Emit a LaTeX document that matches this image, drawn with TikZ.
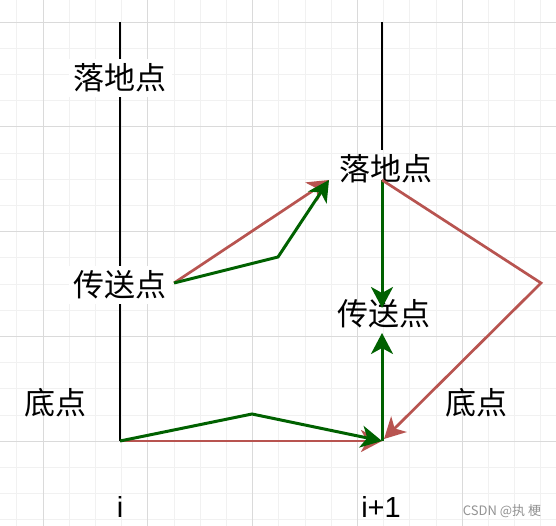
\documentclass[tikz,border=0pt]{standalone}
\usepackage{fontspec}
\setmainfont{Liberation Sans}
\newfontfamily\cjk{Noto Sans CJK SC}
\usepackage{tikz}
\usetikzlibrary{arrows.meta}
\definecolor{gridmin}{HTML}{F1F1F1}
\definecolor{gridmaj}{HTML}{DADADA}
\definecolor{jumpgreen}{HTML}{006100}
\definecolor{jumpred}{HTML}{B85450}
\newcommand{\Hop}[3]{\draw [#1] (#2) -- (#3);}

\begin{document}
\begin{tikzpicture}
[x=1pt,y=-1pt,
 pole/.style={line width=2.6pt,black},
 lbl/.style={fill=white,inner sep=5pt,font=\cjk\fontsize{31}{31}\selectfont},
 idx/.style={inner sep=0pt,font=\fontsize{29}{29}\selectfont},
 garc/.style={line width=3pt,jumpgreen,-{Stealth[length=21pt,width=22pt,inset=6pt]}},
 rarc/.style={line width=2.7pt,jumpred,-{Stealth[length=21pt,width=22pt,inset=6pt]}},]

\useasboundingbox (0,0) rectangle (556,526);
\fill[white] (0,0) rectangle (556,526);

% grid
\foreach \k in {0,...,21}
  \draw[gridmin,line width=0.8pt] (16.8+26.2*\k,0) -- (16.8+26.2*\k,526);
\foreach \k in {0,...,20}
  \draw[gridmin,line width=0.8pt] (0,-4.2+26.2*\k) -- (556,-4.2+26.2*\k);
\foreach \k in {0,...,4}
  \draw[gridmaj,line width=0.9pt] (43+104.8*\k,0) -- (43+104.8*\k,526);
\foreach \k in {0,...,4}
  \draw[gridmaj,line width=0.9pt] (0,22+104.8*\k) -- (556,22+104.8*\k);

\coordinate (topL) at (120,22);
\coordinate (botL) at (120,441);
\coordinate (topR) at (382,22);
\coordinate (midR) at (382,150);
\coordinate (botR) at (382,441);

% poles
\draw[pole] (topL) -- (botL);
\draw[pole] (topR) -- (midR);

\node [lbl] at (120,78) (landL) {落地点};
\node [lbl] at (120,285) (teleL) {传送点};
\node [lbl,fill=none] at (386,169) (landR) {落地点};
\node [lbl,fill=none] at (384,314) (teleR) {传送点};
\node [lbl,fill=none] at (55,403) (baseL) {底点};
\node [lbl,fill=none] at (476,403) (baseR) {底点};
\node [idx] at (120,507) (posI) {i};
\node [idx] at (381,507) (posJ) {i+1};
\node [inner sep=0pt,text=gray!85,font=\cjk\fontsize{13}{13}\selectfont] at (502,511) (mark) {CSDN @执 梗};

\coordinate (landRs) at (382,180);
\coordinate (landRt) at (329,180);
\coordinate (teleLs) at (174,283);
\coordinate (teleRt) at (382,308);
\coordinate (teleRb) at (382,333);
\coordinate (bendG) at (278,257);
\coordinate (bendB) at (252,414);
\coordinate (bendR) at (541,283);
\coordinate (baseRt) at (384,439);

% jumps
\Hop{rarc}{teleLs}{landRt}
\draw [garc] (teleLs) -- (bendG) -- (landRt);
\Hop{garc}{landRs}{teleRt}
\Hop{garc}{botR}{teleRb}
\draw [rarc] (landRs) -- (bendR) -- (baseRt);
\Hop{rarc}{botL}{botR}
\draw [garc] (botL) -- (bendB) -- (botR);
\end{tikzpicture}
\end{document}
